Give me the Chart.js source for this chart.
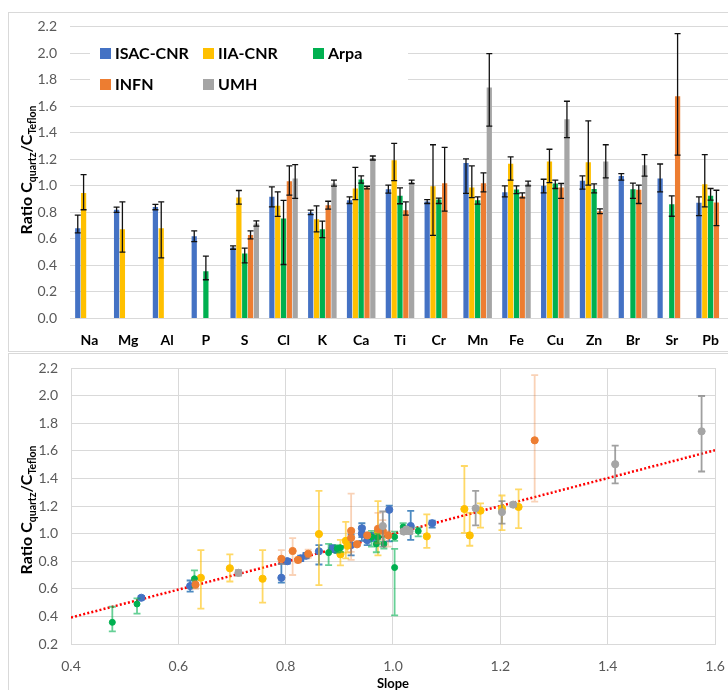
<!DOCTYPE html>
<html lang="en">
<head>
<meta charset="UTF-8">
<title>Ratio C quartz / C Teflon</title>
<script src="https://cdn.jsdelivr.net/npm/chart.js@4"></script>
<style>
  body { margin: 0; width: 728px; height: 690px; overflow: hidden; background: #fff; font-family: Lato, sans-serif; }
  .box { position: absolute; left: 8px; width: 738px; border: 1px solid #d9d9d9; background: #fff; }
  #topBox { top: 12px; height: 338px; }
  #botBox { top: 353px; height: 346px; }
  canvas { display: block; }
</style>
</head>
<body>
<div class="box" id="topBox"><canvas id="barChart" width="738" height="338"></canvas></div>
<div class="box" id="botBox"><canvas id="slopeChart" width="738" height="346"></canvas></div>

<script>
// elements on the x axis of the bar chart
const categories = ['Na', 'Mg', 'Al', 'P', 'S', 'Cl', 'K', 'Ca', 'Ti', 'Cr', 'Mn', 'Fe', 'Cu', 'Zn', 'Br', 'Sr', 'Pb'];
const labs = ['ISAC-CNR', 'IIA-CNR', 'Arpa', 'INFN', 'UMH'];

// ratio C_quartz / C_Teflon, error up / down, and slope (one value per element)
const isacRatio = [0.68, 0.82, 0.84, 0.62, 0.535, 0.917, 0.80, 0.892, 0.975, 0.882, 1.173, 0.952, 1.00, 1.038, 1.075, 1.055, 0.872];
const isacUp    = [0.10, 0.02, 0.02, 0.04, 0.013, 0.075, 0.017, 0.025, 0.03, 0.015, 0.03, 0.048, 0.05, 0.037, 0.018, 0.11, 0.045];
const isacDown  = [0.035, 0.02, 0.02, 0.04, 0.013, 0.075, 0.017, 0.025, 0.03, 0.015, 0.23, 0.035, 0.053, 0.063, 0.032, 0.10, 0.096];
const isacSlope = [0.792, 0.828, 0.838, 0.622, 0.531, 0.922, 0.803, 0.887, 0.962, 0.893, 0.993, 0.952, 0.942, 0.942, 1.073, 1.033, 0.862];

const iiaRatio = [0.947, 0.673, 0.68, null, 0.912, 0.85, 0.749, 0.98, 1.193, 0.997, 0.987, 1.166, 1.183, 1.178, null, null, 1.013];
const iiaUp    = [0.138, 0.207, 0.20, null, 0.053, 0.105, 0.10, 0.16, 0.127, 0.313, 0.163, 0.053, 0.093, 0.312, null, null, 0.223];
const iiaDown  = [0.127, 0.173, 0.223, null, 0.05, 0.08, 0.096, 0.083, 0.153, 0.371, 0.075, 0.123, 0.158, 0.173, null, null, 0.171];
const iiaSlope = [0.912, 0.757, 0.642, null, 0.915, 0.902, 0.696, 1.063, 1.234, 0.862, 1.143, 1.163, 1.203, 1.133, null, null, 0.972];

const arpaRatio = [null, null, null, 0.357, 0.49, 0.754, 0.673, 1.048, 0.925, 0.897, 0.892, 0.972, 1.018, 0.977, 0.975, 0.862, 0.925];
const arpaUp    = [null, null, null, 0.113, 0.04, 0.136, 0.061, 0.027, 0.06, 0.01, 0.025, 0.028, 0.025, 0.038, 0.045, 0.063, 0.055];
const arpaDown  = [null, null, null, 0.065, 0.07, 0.347, 0.063, 0.027, 0.06, 0.03, 0.03, 0.03, 0.038, 0.03, 0.07, 0.091, 0.033];
const arpaSlope = [null, null, null, 0.477, 0.523, 1.003, 0.630, 1.019, 0.969, 0.902, 0.896, 0.972, 1.047, 1.003, 0.960, 0.880, 0.983];

const infnRatio = [null, null, null, null, 0.63, 1.035, 0.854, 0.987, 0.817, 1.02, 1.02, 0.922, 0.987, 0.809, 0.97, 1.676, 0.874];
const infnUp    = [null, null, null, null, 0.03, 0.115, 0.03, 0.01, 0.063, 0.27, 0.078, 0.025, 0.031, 0.018, 0.035, 0.472, 0.093];
const infnDown  = [null, null, null, null, 0.03, 0.105, 0.03, 0.01, 0.037, 0.21, 0.065, 0.012, 0.082, 0.019, 0.103, 0.445, 0.174];
const infnSlope = [null, null, null, null, 0.632, 0.972, 0.842, 0.952, 0.792, 0.922, 0.981, 0.933, 0.991, 0.823, 0.922, 1.264, 0.813];

const umhRatio = [null, null, null, null, 0.716, 1.055, 1.018, 1.21, 1.03, null, 1.741, 1.015, 1.503, 1.183, 1.156, null, null];
const umhUp    = [null, null, null, null, 0.02, 0.105, 0.025, 0.015, 0.013, null, 0.256, 0.02, 0.135, 0.127, 0.08, null, null];
const umhDown  = [null, null, null, null, 0.02, 0.15, 0.02, 0.015, 0.013, null, 0.291, 0.015, 0.139, 0.123, 0.083, null, null];
const umhSlope = [null, null, null, null, 0.712, 0.981, 1.031, 1.224, 1.025, null, 1.575, 1.02, 1.414, 1.154, 1.203, null, null];

// linear trend of ratio vs slope
const trendSlope = 1.01;
const trendIntercept = -0.012;

const yTicks = { min: 0, max: 2.2, step: 0.2 };
const slopeTicks = { min: 0.4, max: 1.6, step: 0.2 };
const ratioTicks = { min: 0.2, max: 2.2, step: 0.2 };

const colors = ['#4472C4', '#FFC000', '#00B050', '#ED7D31', '#A5A5A5'];
const errColors = ['rgba(46,117,182,0.85)', 'rgba(255,192,0,0.6)', 'rgba(0,176,80,0.6)', 'rgba(237,125,49,0.35)', 'rgba(128,128,128,0.75)'];

const series = [
  { ratio: isacRatio, up: isacUp, down: isacDown, slope: isacSlope },
  { ratio: iiaRatio, up: iiaUp, down: iiaDown, slope: iiaSlope },
  { ratio: arpaRatio, up: arpaUp, down: arpaDown, slope: arpaSlope },
  { ratio: infnRatio, up: infnUp, down: infnDown, slope: infnSlope },
  { ratio: umhRatio, up: umhUp, down: umhDown, slope: umhSlope }
];

const FONT = 'Lato, sans-serif';
const tickFont = { family: FONT, size: 14 };

// fixed axis size, and no extra padding from the end labels
function fixSize(prop, size) {
  return s => {
    s[prop] = size;
    s.paddingTop = 0; s.paddingBottom = 0; s.paddingLeft = 0; s.paddingRight = 0;
  };
}

// y title with subscripts: Ratio C_quartz / C_Teflon
function drawRatioTitle(ctx, cx, cy) {
  const parts = [
    ['Ratio C', 16, 0], ['quartz', 10.5, 4], ['/C', 16, 0], ['Teflon', 10.5, 4]
  ];
  ctx.save();
  ctx.fillStyle = '#000';
  ctx.textBaseline = 'alphabetic';
  ctx.textAlign = 'left';
  let total = 0;
  parts.forEach(p => { ctx.font = 'bold ' + p[1] + 'px ' + FONT; total += ctx.measureText(p[0]).width; });
  ctx.translate(cx, cy);
  ctx.rotate(-Math.PI / 2);
  let x = -total / 2;
  parts.forEach(p => {
    ctx.font = 'bold ' + p[1] + 'px ' + FONT;
    ctx.fillText(p[0], x, 6 + p[2]);
    x += ctx.measureText(p[0]).width;
  });
  ctx.restore();
}

function capLine(ctx, x, y1, y2, w) {
  ctx.beginPath();
  ctx.moveTo(x, y1); ctx.lineTo(x, y2);
  ctx.moveTo(x - w, y1); ctx.lineTo(x + w, y1);
  ctx.moveTo(x - w, y2); ctx.lineTo(x + w, y2);
  ctx.stroke();
}

// ---------- top: bar chart ----------
const barErrors = {
  id: 'barErrors',
  afterDatasetsDraw(chart) {
    const ctx = chart.ctx, ys = chart.scales.y;
    ctx.save();
    ctx.strokeStyle = '#111';
    ctx.lineWidth = 1.3;
    chart.data.datasets.forEach((ds, di) => {
      const s = series[di];
      chart.getDatasetMeta(di).data.forEach((bar, i) => {
        if (s.ratio[i] == null) return;
        capLine(ctx, bar.x, ys.getPixelForValue(s.ratio[i] + s.up[i]), ys.getPixelForValue(s.ratio[i] - s.down[i]), 3);
      });
    });
    ctx.restore();
  }
};

const barDecor = {
  id: 'barDecor',
  afterDraw(chart) {
    const ctx = chart.ctx;
    drawRatioTitle(ctx, 17, 157);
    // legend inside plot area
    ctx.save();
    ctx.fillStyle = '#fff';
    ctx.fillRect(81, 22, 318, 63);
    const pos = [[91, 40], [194, 40], [304, 40], [91, 71], [194, 71]];
    ctx.font = 'bold 16px ' + FONT;
    ctx.textBaseline = 'middle';
    labs.forEach((l, i) => {
      ctx.fillStyle = colors[i];
      ctx.fillRect(pos[i][0], pos[i][1] - 5, 11, 11);
      ctx.fillStyle = '#000';
      ctx.fillText(l, pos[i][0] + 15, pos[i][1] + 1);
    });
    ctx.restore();
  }
};

new Chart(document.getElementById('barChart'), {
  type: 'bar',
  data: {
    labels: categories,
    datasets: series.map((s, i) => ({
      label: labs[i],
      data: s.ratio,
      backgroundColor: colors[i],
      barPercentage: 0.9,
      categoryPercentage: 0.75
    }))
  },
  options: {
    responsive: false,
    animation: false,
    layout: { padding: { top: 13.7, right: 17, left: 0, bottom: 0 } },
    plugins: { legend: { display: false }, tooltip: { enabled: false } },
    scales: {
      x: {
        grid: { display: false },
        border: { display: true, color: '#d9d9d9' },
        ticks: { font: { family: FONT, size: 14, weight: 'bold' }, color: '#000', padding: 6 },
        afterFit: fixSize('height', 32.5)
      },
      y: {
        min: yTicks.min, max: yTicks.max,
        grid: { color: '#d9d9d9', drawTicks: false },
        border: { display: false },
        ticks: { stepSize: yTicks.step, font: tickFont, color: '#595959', padding: 13, callback: v => v.toFixed(1) },
        afterFit: fixSize('width', 61)
      }
    }
  },
  plugins: [barErrors, barDecor]
});

// ---------- bottom: ratio vs slope ----------
const pointErrors = {
  id: 'pointErrors',
  beforeDatasetDraw(chart, args) {
    const ds = chart.data.datasets[args.index];
    if (ds.errColor == null) return;
    const ctx = chart.ctx, ys = chart.scales.y;
    ctx.save();
    ctx.strokeStyle = ds.errColor;
    ctx.lineWidth = 1.8;
    args.meta.data.forEach((pt, i) => {
      const p = ds.data[i];
      capLine(ctx, pt.x, ys.getPixelForValue(p.y + p.up), ys.getPixelForValue(p.y - p.down), 3.5);
    });
    ctx.restore();
  }
};

const slopeDecor = {
  id: 'slopeDecor',
  afterDraw(chart) {
    const ctx = chart.ctx;
    drawRatioTitle(ctx, 17, 156);
    ctx.save();
    ctx.font = 'bold 13px ' + FONT;
    ctx.fillStyle = '#000';
    ctx.textAlign = 'center';
    ctx.textBaseline = 'middle';
    ctx.fillText('Slope', (chart.chartArea.left + chart.chartArea.right) / 2, 330);
    ctx.restore();
  }
};

const scatterSets = series.map((s, gi) => ({
  label: labs[gi],
  data: categories.map((c, i) => ({ x: s.slope[i], y: s.ratio[i], up: s.up[i], down: s.down[i] }))
    .filter(p => p.y != null),
  backgroundColor: colors[gi],
  borderColor: colors[gi],
  borderWidth: 1,
  pointRadius: gi === 2 ? 3 : 3.6,
  errColor: errColors[gi],
  order: 5 - gi
}));

const trendSet = {
  type: 'line',
  label: 'trend',
  data: [slopeTicks.min, slopeTicks.max].map(x => ({ x: x, y: trendSlope * x + trendIntercept })),
  borderColor: '#FF0000',
  borderWidth: 2.5,
  borderDash: [2, 2.2],
  pointRadius: 0,
  order: 10
};

new Chart(document.getElementById('slopeChart'), {
  type: 'scatter',
  data: { datasets: [trendSet].concat(scatterSets) },
  options: {
    responsive: false,
    animation: false,
    layout: { padding: { top: 14, right: 32, left: 0, bottom: 0 } },
    plugins: { legend: { display: false }, tooltip: { enabled: false } },
    scales: {
      x: {
        type: 'linear',
        min: slopeTicks.min, max: slopeTicks.max,
        grid: { color: '#d9d9d9', drawTicks: false },
        border: { color: '#d9d9d9' },
        ticks: { stepSize: slopeTicks.step, font: tickFont, color: '#595959', padding: 14, callback: v => v.toFixed(1) },
        afterFit: fixSize('height', 56)
      },
      y: {
        min: ratioTicks.min, max: ratioTicks.max,
        grid: { color: '#d9d9d9', drawTicks: false },
        border: { color: '#d9d9d9' },
        ticks: { stepSize: ratioTicks.step, font: tickFont, color: '#595959', padding: 13, callback: v => v.toFixed(1) },
        afterFit: fixSize('width', 62)
      }
    }
  },
  plugins: [pointErrors, slopeDecor]
});
</script>
</body>
</html>
